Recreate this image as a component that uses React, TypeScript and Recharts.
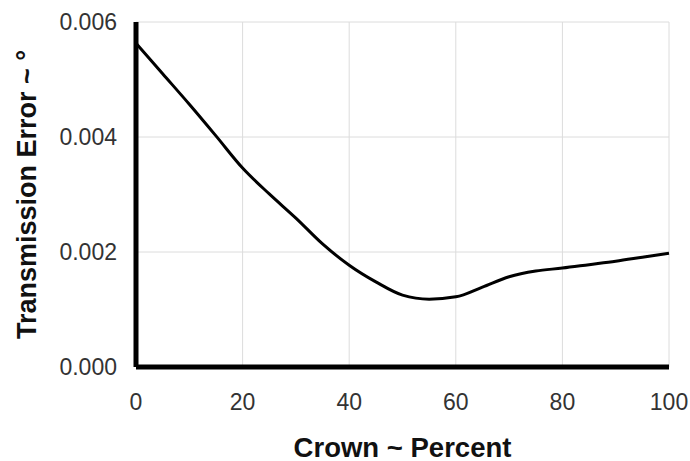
import React from "react";
import { LineChart, Line, XAxis, YAxis, CartesianGrid } from "recharts";

const crownPercent = [0, 5, 10, 15, 20, 25, 30, 35, 40, 45, 50, 55, 60, 65, 70, 75, 80, 85, 90, 95, 100];
const transmissionError = [
  0.00563, 0.0051, 0.00457, 0.00402, 0.00346, 0.00301, 0.00259, 0.00214, 0.00177, 0.00148,
  0.00125, 0.00118, 0.00122, 0.00139, 0.00157, 0.00167, 0.00172, 0.00178, 0.00184, 0.00191, 0.00198,
];
const xTicks = [0, 20, 40, 60, 80, 100];
const yTicks = [0, 0.002, 0.004, 0.006];
const xTitle = "Crown ~ Percent";
const yTitle = "Transmission Error ~ °";

const data = crownPercent.map((c, i) => ({ crown: c, te: transmissionError[i] }));

const FONT = "'Liberation Sans', Arial, sans-serif";

const YTitle = (props: any) => {
  const vb = props.viewBox || {};
  const cx = vb.x + 27;
  const cy = vb.y + vb.height / 2;
  return (
    <text
      x={cx}
      y={cy}
      transform={`rotate(-90, ${cx}, ${cy})`}
      textAnchor="middle"
      dominantBaseline="central"
      fontFamily={FONT}
      fontWeight="bold"
      fontSize={27}
      fill="#111"
    >
      {yTitle}
    </text>
  );
};

const XTitle = (props: any) => {
  const vb = props.viewBox || {};
  return (
    <text
      x={vb.x + vb.width / 2}
      y={vb.y + 80}
      textAnchor="middle"
      dominantBaseline="central"
      fontFamily={FONT}
      fontWeight="bold"
      fontSize={27.5}
      fill="#111"
    >
      {xTitle}
    </text>
  );
};

export default function App() {
  return (
    <div style={{ position: "absolute", left: 0, top: 0, background: "#fff" }}>
      <LineChart
        width={690}
        height={461}
        data={data}
        margin={{ top: 22, right: 21, bottom: 0, left: 0 }}
      >
        <CartesianGrid stroke="#dcdcdc" strokeWidth={1} />
        <XAxis
          dataKey="crown"
          type="number"
          domain={[0, 100]}
          ticks={xTicks}
          height={94}
          tickLine={false}
          tickSize={0}
          tickMargin={27}
          axisLine={{ stroke: "#000", strokeWidth: 5 }}
          tick={{ fontFamily: FONT, fontSize: 23, fill: "#333" }}
          label={<XTitle />}
        />
        <YAxis
          type="number"
          domain={[0, 0.006]}
          ticks={yTicks}
          width={136}
          tickLine={false}
          tickSize={0}
          tickMargin={19}
          axisLine={{ stroke: "#000", strokeWidth: 5 }}
          tick={{ fontFamily: FONT, fontSize: 23, fill: "#333" }}
          tickFormatter={(v: number) => v.toFixed(3)}
          label={<YTitle />}
        />
        <Line
          type="monotone"
          dataKey="te"
          stroke="#000"
          strokeWidth={3}
          dot={false}
          isAnimationActive={false}
        />
      </LineChart>
    </div>
  );
}
